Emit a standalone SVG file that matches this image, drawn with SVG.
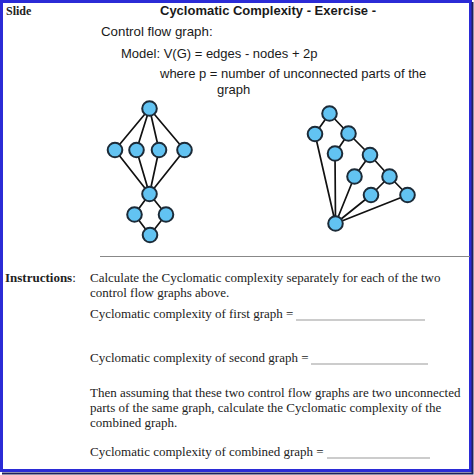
<svg xmlns="http://www.w3.org/2000/svg" width="474" height="475" viewBox="0 0 474 475">
<style>
.sans{font-family:"Liberation Sans",Arial,sans-serif;fill:#1a1a1a;font-size:13px}
.serif{font-family:"Liberation Serif","Times New Roman",serif;fill:#222;font-size:13px}
.node{fill:#62c3f2;stroke:#1c2b38;stroke-width:2}
.edge{stroke:#111;stroke-width:1.7;fill:none}
.blank{stroke:#999;stroke-width:1}
</style>
<rect x="0" y="0" width="474" height="475" fill="#fff"/>
<rect x="1.5" y="1.5" width="469" height="469" fill="none" stroke="#2b2bd6" stroke-width="3"/>
<path d="M472.5 2 V473.5 H2" fill="none" stroke="#20205a" stroke-width="2"/>

<text class="serif" x="6" y="15" style="font-size:12px" font-weight="bold">Slide</text>
<text class="sans" x="160" y="15" font-weight="bold">Cyclomatic Complexity - Exercise -</text>
<text class="sans" x="101" y="36" style="font-size:13.3px">Control flow graph:</text>
<text class="sans" x="121" y="58">Model: V(G) = edges - nodes + 2p</text>
<text class="sans" x="160" y="78">where p = number of unconnected parts of the</text>
<text class="sans" x="217" y="94">graph</text>

<g id="connectors">
<path class="edge" d="M149.5 108.5 L115 150 M149.5 108.5 L136.5 150 M149.5 108.5 L159 150 M149.5 108.5 L184.5 150"/>
<path class="edge" d="M115 150 L149.5 194 M136.5 150 L149.5 194 M159 150 L149.5 194 M184.5 150 L149.5 194"/>
<path class="edge" d="M149.5 194 L134.5 214.5 M149.5 194 L166 214.5 M134.5 214.5 L150 235 M166 214.5 L150 235"/>
<path class="edge" d="M329.5 113.5 L315 134 M329.5 113.5 L348.5 133.5 M348.5 133.5 L335 153.5 M348.5 133.5 L370 155 M370 155 L354.5 176.5 M370 155 L389.5 176.5 M389.5 176.5 L371 195 M389.5 176.5 L407.5 195"/>
<path class="edge" d="M315 134 L335.5 223.5 M335 153.5 L335.5 223.5 M354.5 176.5 L335.5 223.5 M371 195 L335.5 223.5 M407.5 195 L335.5 223.5"/>
</g>

<g id="g1-top"><circle class="node" cx="149.5" cy="108.5" r="7.3"/></g>
<g id="g1-a"><circle class="node" cx="115" cy="150" r="7.3"/></g>
<g id="g1-b"><circle class="node" cx="136.5" cy="150" r="7.3"/></g>
<g id="g1-c"><circle class="node" cx="159" cy="150" r="7.3"/></g>
<g id="g1-d"><circle class="node" cx="184.5" cy="150" r="7.3"/></g>
<g id="g1-mid"><circle class="node" cx="149.5" cy="194" r="7.3"/></g>
<g id="g1-left"><circle class="node" cx="134.5" cy="214.5" r="7.3"/></g>
<g id="g1-right"><circle class="node" cx="166" cy="214.5" r="7.3"/></g>
<g id="g1-bottom"><circle class="node" cx="150" cy="235" r="7.3"/></g>

<g id="g2-a"><circle class="node" cx="329.5" cy="113.5" r="7.3"/></g>
<g id="g2-b"><circle class="node" cx="315" cy="134" r="7.3"/></g>
<g id="g2-c"><circle class="node" cx="348.5" cy="133.5" r="7.3"/></g>
<g id="g2-d"><circle class="node" cx="335" cy="153.5" r="7.3"/></g>
<g id="g2-e"><circle class="node" cx="370" cy="155" r="7.3"/></g>
<g id="g2-f"><circle class="node" cx="354.5" cy="176.5" r="7.3"/></g>
<g id="g2-g"><circle class="node" cx="389.5" cy="176.5" r="7.3"/></g>
<g id="g2-h"><circle class="node" cx="371" cy="195" r="7.3"/></g>
<g id="g2-i"><circle class="node" cx="407.5" cy="195" r="7.3"/></g>
<g id="g2-k"><circle class="node" cx="335.5" cy="223.5" r="7.3"/></g>

<line x1="100" y1="256.5" x2="470" y2="256.5" stroke="#888" stroke-width="1"/>

<text class="serif" x="5" y="282" font-weight="bold">Instructions<tspan font-weight="normal">:</tspan></text>
<text class="serif" x="90" y="282">Calculate the Cyclomatic complexity separately for each of the two</text>
<text class="serif" x="90" y="297">control flow graphs above.</text>
<text class="serif" x="90" y="318">Cyclomatic complexity of first graph =</text>
<line class="blank" x1="296" y1="320" x2="425" y2="320"/>
<text class="serif" x="90" y="362">Cyclomatic complexity of second graph =</text>
<line class="blank" x1="311" y1="364" x2="428" y2="364"/>
<text class="serif" x="90" y="397">Then assuming that these two control flow graphs are two unconnected</text>
<text class="serif" x="90" y="412">parts of the same graph, calculate the Cyclomatic complexity of the</text>
<text class="serif" x="90" y="427">combined graph.</text>
<text class="serif" x="90" y="456">Cyclomatic complexity of combined graph =</text>
<line class="blank" x1="327" y1="458" x2="430" y2="458"/>
</svg>
